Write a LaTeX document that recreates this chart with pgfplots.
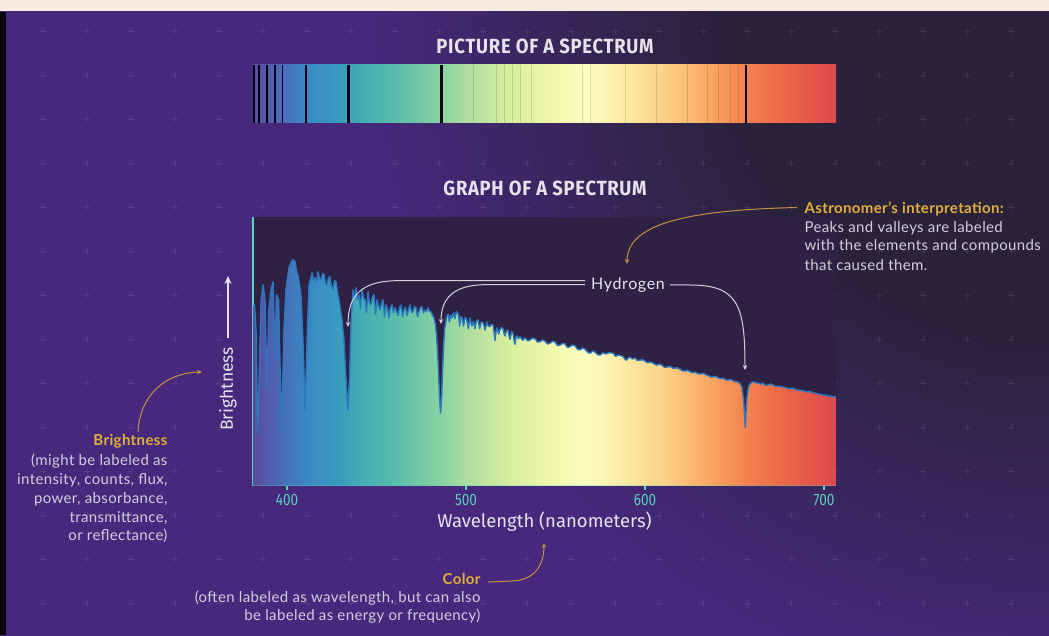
\documentclass[border=0pt]{standalone}
\usepackage{pgfplots}
\pgfplotsset{compat=1.18}
\usepackage{pgfplotstable}
\usetikzlibrary{arrows.meta}
\usepackage{fontspec}
\setmainfont{Lato}[LetterSpace=2.5]
\newfontfamily\hfont{Lato}[LetterSpace=4]
\newfontfamily\titlefont{Fira Sans}[FakeStretch=0.9, LetterSpace=3.5]
\newfontfamily\tickfontfam{Fira Sans}[FakeStretch=0.82]
\newfontfamily\labelfont{Fira Sans}

\definecolor{cream}{HTML}{F8ECE0}
\definecolor{bgpurple}{HTML}{46287C}
\definecolor{bgmid}{HTML}{372659}
\definecolor{bgdark}{HTML}{29223A}
\definecolor{plotbg}{HTML}{2F2144}
\definecolor{axisteal}{HTML}{58D1BD}
\definecolor{labelwhite}{HTML}{E6E2EC}
\definecolor{bodygray}{HTML}{D3CDDC}
\definecolor{gold}{HTML}{E3AE3C}
\definecolor{goldline}{HTML}{C1913F}
\definecolor{hline}{HTML}{D6D0DD}
\definecolor{specblue}{HTML}{2A78BF}

\definecolor{s381}{HTML}{5B4A9F}
\definecolor{s395}{HTML}{4D68B4}
\definecolor{s410}{HTML}{3A87C2}
\definecolor{s425}{HTML}{3897C1}
\definecolor{s440}{HTML}{42AAB3}
\definecolor{s460}{HTML}{58BDA9}
\definecolor{s485}{HTML}{86D2A2}
\definecolor{s500}{HTML}{ADDD9F}
\definecolor{s525}{HTML}{D9EF9F}
\definecolor{s550}{HTML}{F2F8AE}
\definecolor{s568}{HTML}{FDFCC1}
\definecolor{s590}{HTML}{FDE9A1}
\definecolor{s612}{HTML}{FCCF86}
\definecolor{s635}{HTML}{F9A965}
\definecolor{s655}{HTML}{F4844F}
\definecolor{s680}{HTML}{EC6446}
\definecolor{s706}{HTML}{DC4850}

\pgfdeclarehorizontalshading{spectrum}{100bp}{%
color(0bp)=(s381); color(25bp)=(s381); color(27.15bp)=(s395);
color(29.45bp)=(s410); color(31.75bp)=(s425); color(34.06bp)=(s440);
color(37.13bp)=(s460); color(40.97bp)=(s485); color(43.27bp)=(s500);
color(47.11bp)=(s525); color(50.94bp)=(s550); color(53.71bp)=(s568);
color(57.09bp)=(s590); color(60.46bp)=(s612); color(63.99bp)=(s635);
color(67.06bp)=(s655); color(70.9bp)=(s680); color(75bp)=(s706);
color(100bp)=(s706)}

% radius 1300: dark to 340, mid at 490, purple from 680
\pgfdeclareradialshading{bgglow}{\pgfpoint{0bp}{0bp}}{%
color(0bp)=(bgdark); color(6.3bp)=(bgdark); color(9.4bp)=(bgmid);
color(13.1bp)=(bgpurple); color(50bp)=(bgpurple)}

\pgfplotstableread{
nm v
381.0 66.7
381.8 67.4
382.7 58
383.5 19.5
384.4 39
385.5 69
386.6 74.9
387.7 69
388.8 36.7
389.9 65.5
391.1 73
392.2 76
393.3 46.8
394.1 71.2
395.3 69.3
396.9 19.5
398.3 58
399.4 73
401.1 81.3
402.2 83
403.2 84.3
404.5 83.5
405.3 80
406.1 78.7
407.0 75
407.8 71.2
408.9 54.3
410.1 28.1
411.2 54.3
412.3 74.9
413.2 77
414.0 79.4
414.8 76.5
415.6 77.5
416.5 75.8
417.3 79.8
418.2 77
419.0 76.8
419.9 79
420.7 78.7
421.5 75
422.3 74.9
423.2 77.5
424.0 77.9
424.8 74
425.7 73
426.5 76.5
427.4 76
428.2 72
429.1 69.3
430.0 65
430.7 61.8
431.8 54.3
433.0 39.3
433.9 28.1
434.9 39.3
435.8 61.8
436.9 73
437.7 70
438.6 73.8
439.4 69.5
440.2 71.2
441.0 66
441.9 73
442.7 70
443.6 69.3
444.4 64.5
445.3 72.3
446.1 68
446.9 67.4
447.8 70.5
448.6 71.2
449.4 64
450.3 69.3
451.1 67
452.0 65.5
452.8 68
453.6 69.3
454.5 63
455.3 67.4
456.1 66
457.0 62.7
457.8 66.5
458.7 67.4
459.5 64.5
460.3 66.3
461.2 65
462.0 63.4
462.9 66.5
463.7 67.4
464.5 63
465.4 65.5
466.2 66.5
467.0 63.4
467.9 65.5
468.7 67.4
469.6 64.5
470.4 64.8
471.2 66.8
472.1 66.3
472.9 63
473.7 64.8
474.6 66.5
475.4 66.7
476.2 64.5
477.1 65.5
477.9 64.8
478.8 66.3
479.6 65
480.4 64.8
481.3 63.5
482.1 62.5
482.9 60
483.5 56.2
484.1 50
484.6 43.1
485.2 33
485.8 27
486.4 33
486.9 43.1
487.5 52
488.0 58
488.7 61
489.2 63.0
490.0 64
490.7 61
491.5 63.5
492.2 62.5
493.0 64.5
493.8 62.2
494.6 65
495.7 64.0
496.5 59.5
497.0 63
497.8 62.5
498.6 59.5
499.5 62.8
500.4 61.8
501.3 58.5
502.2 62.5
503.2 59.5
504.1 61.2
505.0 58.5
505.8 61.5
506.7 61.8
507.6 58.5
508.5 61
509.7 60.6
510.6 58
511.7 61.0
512.5 59.5
513.4 59.3
514.3 60.2
515.1 59.9
515.7 57
516.2 54.1
516.8 57.5
517.3 58.8
518.2 56.5
519.0 58.1
519.8 59
520.7 58.4
521.3 56.5
521.8 55.8
522.7 58
523.5 57.7
524.1 55.5
524.6 54.5
525.5 57.5
526.3 56.6
526.9 54
527.4 52.7
528.0 55.5
528.5 55.8
529.4 54.8
530.2 55.5
531.6 54.2
533.0 55.1
534.4 54
535.8 54.3
537.2 55
538.6 54.7
540.0 53.5
541.4 53.7
542.8 54.3
544.1 53.9
545.5 52.8
546.9 53.1
548.3 53.8
549.7 53.6
551.1 52.2
552.5 52.4
553.9 53
555.3 52.8
556.7 51.5
558.1 51.8
559.5 52.4
560.9 52.1
562.3 50.8
563.7 50.6
565.1 51.3
566.5 50.9
567.9 49.8
569.3 49.3
570.7 50.2
572.1 49.8
573.5 48.8
574.9 48.7
576.5 49.5
578.2 49.1
580.2 49.6
582.3 49.3
583.6 48.2
584.9 48.7
586.4 48.5
587.9 48.1
588.8 47
589.8 46.8
590.7 47.6
591.6 47.9
593.0 47.2
594.4 47.6
595.8 46.6
597.2 46.8
598.6 46.9
600.0 46.4
601.4 45.8
602.8 46.1
604.6 45.6
606.5 44.9
608.0 45.3
609.5 44.9
610.9 44.1
612.3 44.2
614.0 44.4
615.8 43.7
617.7 43.9
619.6 43.4
621.0 42.8
622.4 42.7
623.8 43
625.2 42.4
626.6 42.1
628.0 42.3
629.4 41.8
630.7 41.6
632.6 41.8
634.5 41.2
636.0 40.8
637.4 40.4
638.8 40.8
640.2 40.4
642.0 39.9
643.8 40.0
645.1 39.4
646.4 39.3
647.5 39.6
648.6 39.3
650.0 38.8
651.3 38.7
652.9 38.2
654.1 36.8
655.1 31.8
656.0 21.7
656.8 31.8
657.8 36.8
659.0 38.2
660.6 38.7
661.9 38.3
663.2 38.2
664.6 37.8
665.9 38.2
667.3 37.4
668.7 37.5
670.2 37.9
671.7 37.5
673.0 36.9
674.3 37.1
676.0 36.8
677.7 36.7
679.3 36.3
681.0 36.2
682.4 36.3
683.8 36.0
685.2 35.5
686.6 35.6
688.5 35.3
690.4 34.9
691.8 35.1
693.3 34.8
695.0 34.5
696.7 34.1
698.1 34.0
699.6 33.7
700.9 33.8
702.2 33.3
703.7 33.4
705.2 33.1
706.7 33.0
}\spectab

\begin{document}
\begin{tikzpicture}[x=1pt,y=1pt]
\useasboundingbox (0,0) rectangle (1049,635);
% background
\fill[cream] (0,623) rectangle (1049,635);
\begin{scope}
\clip (0,0) rectangle (1049,623);
\fill[bgpurple] (0,0) rectangle (1049,623);
\shade[shading=bgglow] (1049,623) circle (1300);
\end{scope}
\fill[black!90!bgpurple] (0,0) rectangle (6,623);
% faint crosses
\foreach \i in {0,...,22}{
  \foreach \j in {0,...,13}{
    \draw[white, opacity=0.09, line width=0.6pt]
      ({43+44*\i-3},{604-44*\j}) -- ({43+44*\i+3},{604-44*\j})
      ({43+44*\i},{604-44*\j-3}) -- ({43+44*\i},{604-44*\j+3});
  }
}
% titles
\node[font={\titlefont\bfseries\fontsize{20.5}{24}\selectfont}, text=labelwhite] at (545,589) {PICTURE OF A SPECTRUM};
\node[font={\titlefont\bfseries\fontsize{20.5}{24}\selectfont}, text=labelwhite] at (545,447) {GRAPH OF A SPECTRUM};

% picture of a spectrum
\begin{axis}[
  at={(253pt,512pt)}, anchor=south west, scale only axis,
  width=583pt, height=58pt,
  xmin=381, xmax=706.7, ymin=0, ymax=1,
  hide axis, clip=true,
]
\addplot[shading=spectrum, draw=none] coordinates {(381,1) (706.7,1)} \closedcycle;
\addplot[ycomb, draw=black, opacity=0.13, line width=1pt, mark=none] coordinates {
(504.2,1) (517.2,1) (521.6,1) (525.9,1) (530.3,1) (536.8,1) (565.0,1) (569.4,1)
(589.0,1) (606.4,1) (623.8,1) (634.7,1) (641.2,1) (647.7,1) (652.1,1)};
\addplot[ycomb, draw=black!92!blue, line width=1.5pt, mark=none] coordinates {
(381.6,1) (384.3,1) (388.9,1) (393.4,1) (397.6,1)};
\addplot[ycomb, draw=black!92!blue, line width=2.4pt, mark=none] coordinates {
(410.5,1) (434.4,1) (486.4,1) (656.3,1)};
\end{axis}

% graph of a spectrum
\begin{axis}[
  at={(253pt,149.5pt)}, anchor=south west, scale only axis,
  width=583pt, height=268pt,
  xmin=381, xmax=706.7, ymin=0, ymax=100,
  axis x line*=bottom, axis y line*=left,
  axis line style={draw=axisteal, line width=1.4pt, -},
  xtick={400,500,600,700}, ytick=\empty,
  major tick length=9pt, tick align=center,
  tick style={draw=axisteal, line width=1.3pt},
  xticklabel style={font={\tickfontfam\fontsize{16.5}{18}\selectfont}, text=axisteal, yshift=-1pt},
  /pgf/number format/assume math mode=true,
  axis background/.style={fill=plotbg},
  clip=true,
]
\addplot[shading=spectrum, draw=none] table[x=nm, y=v] {\spectab} \closedcycle;
\addplot[draw=specblue, line width=1.4pt, line join=round, mark=none] table[x=nm, y=v] {\spectab};
\end{axis}

% axis labels
\node[font={\labelfont\fontsize{18.5}{21}\selectfont}, text=labelwhite] at (544.5,113) {Wavelength (nanometers)};
\node[font={\labelfont\fontsize{17.5}{20}\selectfont}, text=labelwhite, rotate=90] at (228,246) {Brightness};
\draw[labelwhite, line width=1.3pt, -{Stealth[length=8pt,width=7pt]}] (228,297) -- (228,359);

% hydrogen annotation
\node[font={\hfont\fontsize{16}{19}\selectfont}, text=labelwhite] at (628,350) {Hydrogen};
\draw[hline, line width=1pt, -{Stealth[length=5pt,width=4.5pt]}] (585,354.3) -- (398,354.3) .. controls (362,354.3) and (348,340) .. (348,308);
\draw[hline, line width=1pt, -{Stealth[length=5pt,width=4.5pt]}] (585,350.3) -- (486,350.3) .. controls (455,350.3) and (441,338) .. (441,311);
\draw[hline, line width=1pt, -{Stealth[length=5pt,width=4.5pt]}] (670,350) -- (690,350) .. controls (738,350) and (745,330) .. (745,265);

% astronomer annotation
\draw[goldline, line width=1pt, -{Stealth[length=5pt,width=4.5pt]}] (797,427.5) .. controls (690,425) and (627,412) .. (627,371);
\node[anchor=west, font=\bfseries\fontsize{15}{18}\selectfont, text=gold] at (801,426) {Astronomer's interpretation:};
\node[anchor=west, font=\fontsize{15}{18}\selectfont, text=bodygray] at (801,407) {Peaks and valleys are labeled};
\node[anchor=west, font=\fontsize{15}{18}\selectfont, text=bodygray] at (801,389) {with the elements and compounds};
\node[anchor=west, font=\fontsize{15}{18}\selectfont, text=bodygray] at (801,370) {that caused them.};

% brightness annotation
\draw[goldline, line width=1pt, -{Stealth[length=5pt,width=4.5pt]}] (138,203) .. controls (140,240) and (165,262) .. (202,263);
\node[anchor=east, font=\bfseries\fontsize{15}{18}\selectfont, text=gold] at (171,194) {Brightness};
\node[anchor=east, font=\fontsize{15}{18}\selectfont, text=bodygray] at (171,174) {(might be labeled as};
\node[anchor=east, font=\fontsize{15}{18}\selectfont, text=bodygray] at (171,155) {intensity, counts, flux,};
\node[anchor=east, font=\fontsize{15}{18}\selectfont, text=bodygray] at (171,136) {power, absorbance,};
\node[anchor=east, font=\fontsize{15}{18}\selectfont, text=bodygray] at (171,117) {transmittance,};
\node[anchor=east, font=\fontsize{15}{18}\selectfont, text=bodygray] at (171,99) {or reflectance)};

% color annotation
\draw[goldline, line width=1pt, -{Stealth[length=5pt,width=4.5pt]}] (488,53) -- (512,54) .. controls (535,55) and (544,70) .. (544,92);
\node[anchor=east, font=\bfseries\fontsize{15}{18}\selectfont, text=gold] at (484,56) {Color};
\node[anchor=east, font=\fontsize{15}{18}\selectfont, text=bodygray] at (484,37) {(often labeled as wavelength, but can also};
\node[anchor=east, font=\fontsize{15}{18}\selectfont, text=bodygray] at (484,19) {be labeled as energy or frequency)};
\end{tikzpicture}
\end{document}
